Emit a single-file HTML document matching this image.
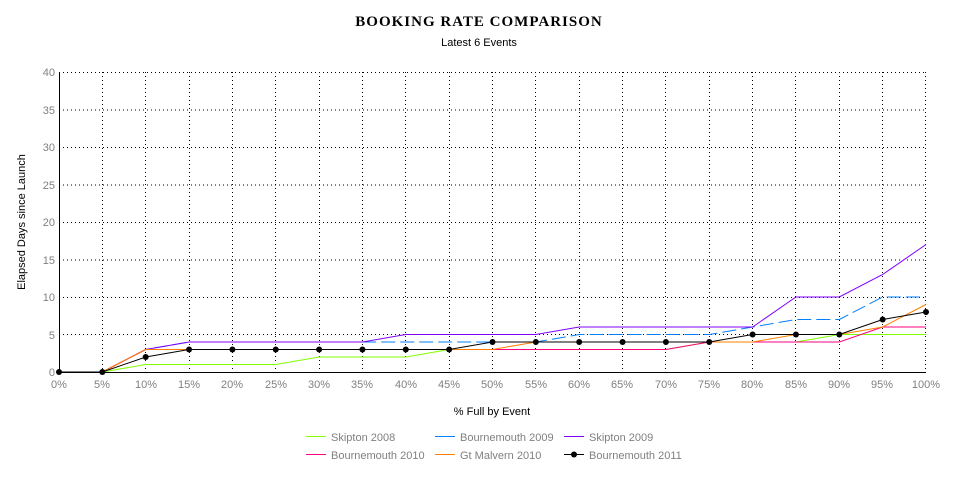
<!DOCTYPE html>
<html><head><style>
body{margin:0;background:#fff;width:958px;height:477px;overflow:hidden}
text{font-family:"Liberation Sans",sans-serif}
</style></head><body>
<svg width="958" height="477" xmlns="http://www.w3.org/2000/svg">
<text x="479" y="26" text-anchor="middle" style="font-family:'Liberation Serif',serif;font-weight:bold;font-size:15px;letter-spacing:1px">BOOKING RATE COMPARISON</text>
<text x="479" y="46" text-anchor="middle" font-size="11" fill="#000">Latest 6 Events</text>
<g stroke="#000" stroke-width="1" stroke-dasharray="1,3">
<line x1="59" y1="72.5" x2="926" y2="72.5"/><line x1="59" y1="110" x2="926" y2="110"/><line x1="59" y1="147.5" x2="926" y2="147.5"/><line x1="59" y1="185" x2="926" y2="185"/><line x1="59" y1="222.5" x2="926" y2="222.5"/><line x1="59" y1="260" x2="926" y2="260"/><line x1="59" y1="297.5" x2="926" y2="297.5"/><line x1="59" y1="334.5" x2="926" y2="334.5"/>
<line x1="102.5" y1="72" x2="102.5" y2="372"/><line x1="145.5" y1="72" x2="145.5" y2="372"/><line x1="189.5" y1="72" x2="189.5" y2="372"/><line x1="232.5" y1="72" x2="232.5" y2="372"/><line x1="275.5" y1="72" x2="275.5" y2="372"/><line x1="319.5" y1="72" x2="319.5" y2="372"/><line x1="362.5" y1="72" x2="362.5" y2="372"/><line x1="405.5" y1="72" x2="405.5" y2="372"/><line x1="449.5" y1="72" x2="449.5" y2="372"/><line x1="492.5" y1="72" x2="492.5" y2="372"/><line x1="535.5" y1="72" x2="535.5" y2="372"/><line x1="579.5" y1="72" x2="579.5" y2="372"/><line x1="622.5" y1="72" x2="622.5" y2="372"/><line x1="665.5" y1="72" x2="665.5" y2="372"/><line x1="709.5" y1="72" x2="709.5" y2="372"/><line x1="752.5" y1="72" x2="752.5" y2="372"/><line x1="795.5" y1="72" x2="795.5" y2="372"/><line x1="839.5" y1="72" x2="839.5" y2="372"/><line x1="882.5" y1="72" x2="882.5" y2="372"/><line x1="925.5" y1="72" x2="925.5" y2="372"/>
</g>
<line x1="59.5" y1="72" x2="59.5" y2="372" stroke="#000"/>
<line x1="59" y1="372.5" x2="926" y2="372.5" stroke="#000"/>
<g font-size="11" fill="#808080" text-anchor="end">
<text x="55" y="76">40</text><text x="55" y="114">35</text><text x="55" y="151">30</text><text x="55" y="189">25</text><text x="55" y="226">20</text><text x="55" y="264">15</text><text x="55" y="301">10</text><text x="55" y="339">5</text><text x="55" y="376">0</text>
</g>
<g font-size="11" fill="#808080" text-anchor="middle">
<text x="59" y="388">0%</text><text x="102" y="388">5%</text><text x="146" y="388">10%</text><text x="189" y="388">15%</text><text x="232" y="388">20%</text><text x="276" y="388">25%</text><text x="319" y="388">30%</text><text x="362" y="388">35%</text><text x="406" y="388">40%</text><text x="449" y="388">45%</text><text x="492" y="388">50%</text><text x="536" y="388">55%</text><text x="579" y="388">60%</text><text x="622" y="388">65%</text><text x="666" y="388">70%</text><text x="709" y="388">75%</text><text x="752" y="388">80%</text><text x="796" y="388">85%</text><text x="839" y="388">90%</text><text x="882" y="388">95%</text><text x="926" y="388">100%</text>
</g>
<text x="492" y="415" text-anchor="middle" font-size="11" fill="#000">% Full by Event</text>
<text transform="translate(25,222) rotate(-90)" text-anchor="middle" font-size="11" fill="#000">Elapsed Days since Launch</text>
<g fill="none" stroke-width="1">
<polyline stroke="#80ff00" points="102.35,372 145.7,364.5 189.05,364.5 232.4,364.5 275.75,364.5 319.1,357 362.45,357 405.8,357 449.15,349.5 492.5,349.5 535.85,349.5 579.2,349.5 622.55,349.5 665.9,349.5 709.25,342 752.6,342 795.95,342 839.3,334.5 882.65,334.5 926,334.5"/>
<polyline stroke="#0080ff" stroke-dasharray="14,5" points="102.35,372 145.7,349.5 189.05,342 232.4,342 275.75,342 319.1,342 362.45,342 405.8,342 449.15,342 492.5,342 535.85,342 579.2,334.5 622.55,334.5 665.9,334.5 709.25,334.5 752.6,327 795.95,319.5 839.3,319.5 882.65,297 926,297"/>
<polyline stroke="#8000ff" points="102.35,372 145.7,349.5 189.05,342 232.4,342 275.75,342 319.1,342 362.45,342 405.8,334.5 449.15,334.5 492.5,334.5 535.85,334.5 579.2,327 622.55,327 665.9,327 709.25,327 752.6,327 795.95,297 839.3,297 882.65,274.5 926,244.5"/>
<polyline stroke="#ff0080" points="102.35,372 145.7,349.5 189.05,349.5 232.4,349.5 275.75,349.5 319.1,349.5 362.45,349.5 405.8,349.5 449.15,349.5 492.5,349.5 535.85,349.5 579.2,349.5 622.55,349.5 665.9,349.5 709.25,342 752.6,342 795.95,342 839.3,342 882.65,327 926,327"/>
<polyline stroke="#ff8000" points="102.35,372 145.7,349.5 189.05,349.5 232.4,349.5 275.75,349.5 319.1,349.5 362.45,349.5 405.8,349.5 449.15,349.5 492.5,349.5 535.85,342 579.2,342 622.55,342 665.9,342 709.25,342 752.6,342 795.95,334.5 839.3,334.5 882.65,327 926,304.5"/>
<polyline stroke="#000" points="59,372 102.35,372 145.7,357 189.05,349.5 232.4,349.5 275.75,349.5 319.1,349.5 362.45,349.5 405.8,349.5 449.15,349.5 492.5,342 535.85,342 579.2,342 622.55,342 665.9,342 709.25,342 752.6,334.5 795.95,334.5 839.3,334.5 882.65,319.5 926,312"/>
</g>
<g fill="#000">
<circle cx="59" cy="372" r="3"/><circle cx="102.35" cy="372" r="3"/><circle cx="145.7" cy="357" r="3"/><circle cx="189.05" cy="349.5" r="3"/><circle cx="232.4" cy="349.5" r="3"/><circle cx="275.75" cy="349.5" r="3"/><circle cx="319.1" cy="349.5" r="3"/><circle cx="362.45" cy="349.5" r="3"/><circle cx="405.8" cy="349.5" r="3"/><circle cx="449.15" cy="349.5" r="3"/><circle cx="492.5" cy="342" r="3"/><circle cx="535.85" cy="342" r="3"/><circle cx="579.2" cy="342" r="3"/><circle cx="622.55" cy="342" r="3"/><circle cx="665.9" cy="342" r="3"/><circle cx="709.25" cy="342" r="3"/><circle cx="752.6" cy="334.5" r="3"/><circle cx="795.95" cy="334.5" r="3"/><circle cx="839.3" cy="334.5" r="3"/><circle cx="882.65" cy="319.5" r="3"/><circle cx="926" cy="312" r="3"/>
</g>
<g stroke-width="1">
<line x1="306" y1="436.5" x2="326" y2="436.5" stroke="#80ff00"/>
<line x1="435" y1="436.5" x2="455" y2="436.5" stroke="#0080ff"/>
<line x1="564" y1="436.5" x2="584" y2="436.5" stroke="#8000ff"/>
<line x1="306" y1="454.5" x2="326" y2="454.5" stroke="#ff0080"/>
<line x1="435" y1="454.5" x2="455" y2="454.5" stroke="#ff8000"/>
<line x1="564" y1="454.5" x2="584" y2="454.5" stroke="#000"/>
</g>
<circle cx="574" cy="454.5" r="3" fill="#000"/>
<g font-size="11" fill="#808080">
<text x="331" y="441">Skipton 2008</text><text x="460" y="441">Bournemouth 2009</text><text x="589" y="441">Skipton 2009</text>
<text x="331" y="459">Bournemouth 2010</text><text x="460" y="459">Gt Malvern 2010</text><text x="589" y="459">Bournemouth 2011</text>
</g>
</svg>
</body></html>
